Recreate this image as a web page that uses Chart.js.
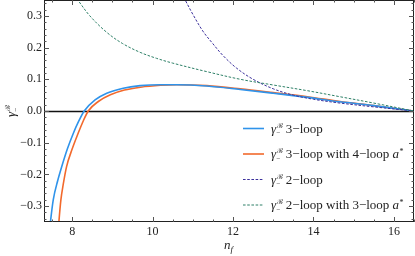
<!DOCTYPE html>
<html>
<head>
<meta charset="utf-8">
<script src="https://cdn.jsdelivr.net/npm/chart.js@4.4.1/dist/chart.umd.min.js"></script>
<style>
  html, body { margin: 0; padding: 0; background: #fff; }
  #wrap { width: 415px; height: 256px; }
</style>
</head>
<body>
<div id="wrap"><canvas id="chart" width="415" height="256"></canvas></div>
<script>
// values
const nfBlue = [7.42, 7.46, 7.53, 7.64, 7.74, 7.88, 8.03, 8.16, 8.30, 8.57, 8.86, 9.27, 9.69, 10.2, 10.6, 11.35, 12.18, 13.0, 13.85, 14.66, 15.5, 16.5];
const gammaBlue = [-0.40, -0.35, -0.28, -0.22, -0.176, -0.12, -0.07, -0.033, 0.0, 0.035, 0.056, 0.072, 0.080, 0.083, 0.083, 0.079, 0.068, 0.056, 0.043, 0.029, 0.017, 0.0];

const nfOrange = [7.63, 7.67, 7.72, 7.78, 7.86, 8.0, 8.15, 8.27, 8.40, 8.65, 8.95, 9.3, 9.7, 10.2, 10.6, 11.35, 12.18, 13.0, 13.85, 14.66, 15.5, 16.5];
const gammaOrange = [-0.42, -0.35, -0.28, -0.23, -0.176, -0.12, -0.07, -0.033, 0.0, 0.030, 0.051, 0.066, 0.075, 0.081, 0.083, 0.080, 0.070, 0.058, 0.045, 0.030, 0.017, 0.0];

const nfPurple = [10.72, 10.81, 11.0, 11.25, 11.5, 11.75, 12.09, 12.5, 13.0, 13.5, 14.0, 14.66, 15.5, 16.5];
const gammaPurple = [0.37, 0.35, 0.305, 0.252, 0.212, 0.175, 0.135, 0.100, 0.070, 0.050, 0.037, 0.025, 0.013, 0.0];

const nfGreen = [8.05, 8.14, 8.44, 8.86, 9.25, 9.69, 10.1, 10.5, 11.35, 12.18, 13.0, 13.85, 14.66, 15.5, 16.5];
const gammaGreen = [0.365, 0.35, 0.30, 0.248, 0.213, 0.185, 0.166, 0.151, 0.124, 0.100, 0.082, 0.064, 0.045, 0.025, 0.0];

const xTicks = [8, 10, 12, 14, 16];
const yTicks = [-0.3, -0.2, -0.1, 0.0, 0.1, 0.2, 0.3];

const legendLabels = ["3\u2212loop", "3\u2212loop with 4\u2212loop ", "2\u2212loop", "2\u2212loop with 3\u2212loop "];
const legendHasA = [false, true, false, true];

const colors = ["#2f93ea", "#f2692c", "#3b309c", "#2f8068"];
const serif = "'Liberation Serif', 'DejaVu Serif', serif";

function pts(xs, ys) {
    return xs.map((x, i) => ({ x: x, y: ys[i] }));
}

function lineSet(xs, ys, color, dashed) {
    const set = {
        data: pts(xs, ys),
        borderColor: color,
        borderWidth: dashed ? 1 : 1.6,
        borderDash: dashed ? [2.6, 1.6] : [],
        pointRadius: 0,
        fill: false
    };
    if (dashed) set.tension = 0.35;
    else set.cubicInterpolationMode = "monotone";
    return set;
}

// frame, inward ticks and zero line, like a Mathematica frame
const framePlugin = {
    id: "frame",
    beforeDatasetsDraw(chart) {
        const ctx = chart.ctx;
        const a = chart.chartArea;
        const ys = chart.scales.y;
        const y0 = Math.round(ys.getPixelForValue(0)) + 0.5;
        ctx.save();
        ctx.strokeStyle = "#111";
        ctx.lineWidth = 1.4;
        ctx.beginPath();
        ctx.moveTo(a.left, y0);
        ctx.lineTo(a.right, y0);
        ctx.stroke();
        ctx.restore();
    },
    afterDatasetsDraw(chart) {
        const ctx = chart.ctx;
        const a = chart.chartArea;
        const xs = chart.scales.x, ys = chart.scales.y;
        ctx.save();
        ctx.strokeStyle = "#222";
        ctx.lineWidth = 1;
        ctx.strokeRect(Math.round(a.left) + 0.5, Math.round(a.top) + 0.5,
            Math.round(a.right - a.left) - 1, Math.round(a.bottom - a.top) - 1);

        ctx.strokeStyle = "#555";
        ctx.beginPath();
        for (let v = 7.5; v <= 16.51; v += 0.5) {
            const major = Math.abs(v / 2 - Math.round(v / 2)) < 1e-6;
            const len = major ? 5 : 2.5;
            const px = Math.round(xs.getPixelForValue(v)) + 0.5;
            ctx.moveTo(px, a.bottom);
            ctx.lineTo(px, a.bottom - len);
            ctx.moveTo(px, a.top);
            ctx.lineTo(px, a.top + len);
        }
        for (let k = -17; k <= 17; k++) {
            const v = k * 0.02;
            const major = k % 5 === 0;
            const len = major ? 5 : 2.5;
            const py = Math.round(ys.getPixelForValue(v)) + 0.5;
            ctx.moveTo(a.left, py);
            ctx.lineTo(a.left + len, py);
            ctx.moveTo(a.right, py);
            ctx.lineTo(a.right - len, py);
        }
        ctx.stroke();
        ctx.restore();
    },
    afterDraw(chart) {
        const ctx = chart.ctx;
        const a = chart.chartArea;
        ctx.save();
        ctx.fillStyle = "#222";
        ctx.textBaseline = "alphabetic";

        // x title n_f
        const cx = (a.left + a.right) / 2;
        ctx.font = "italic 13px " + serif;
        ctx.fillText("n", cx - 5, 249);
        ctx.font = "italic 9px " + serif;
        ctx.fillText("f", cx + 1.5, 252);

        // y title gamma^B_-
        ctx.save();
        ctx.translate(15, (a.top + a.bottom) / 2 + 6);
        ctx.rotate(-Math.PI / 2);
        drawGamma(ctx, 0, 0);
        ctx.restore();

        // legend
        for (let i = 0; i < 4; i++) {
            const y = 128 + i * 25.5;
            ctx.save();
            ctx.strokeStyle = colors[i];
            ctx.lineWidth = i < 2 ? 1.6 : 1.2;
            ctx.setLineDash(i < 2 ? [] : [2.6, 1.6]);
            ctx.beginPath();
            ctx.moveTo(243, y + 0.5);
            ctx.lineTo(264, y + 0.5);
            ctx.stroke();
            ctx.restore();

            let x = 271;
            const by = y + 4.5;
            x = drawGamma(ctx, x, by);
            ctx.font = "13px " + serif;
            ctx.fillText(" " + legendLabels[i], x, by);
            x += ctx.measureText(" " + legendLabels[i]).width;
            if (legendHasA[i]) {
                ctx.font = "italic 13px " + serif;
                ctx.fillText("a", x, by);
                x += ctx.measureText("a").width;
                ctx.font = "8px " + serif;
                ctx.fillText("*", x + 0.5, by - 4);
            }
        }
        ctx.restore();
    }
};

function drawGamma(ctx, x, y) {
    ctx.font = "italic 13px " + serif;
    ctx.fillText("\u03b3", x, y);
    x += ctx.measureText("\u03b3").width + 0.5;
    ctx.font = "7px " + serif;
    ctx.fillText("\u212c", x, y - 5);
    const w1 = ctx.measureText("\u212c").width;
    ctx.fillText("\u2212", x, y + 2.5);
    const w2 = ctx.measureText("\u2212").width;
    return x + Math.max(w1, w2);
}

new Chart(document.getElementById("chart"), {
    type: "line",
    data: {
        datasets: [
            lineSet(nfGreen, gammaGreen, colors[3], true),
            lineSet(nfPurple, gammaPurple, colors[2], true),
            lineSet(nfBlue, gammaBlue, colors[0], false),
            lineSet(nfOrange, gammaOrange, colors[1], false)
        ]
    },
    options: {
        responsive: false,
        animation: false,
        layout: { padding: { top: 0, right: 1, left: 0, bottom: 0 } },
        plugins: { legend: { display: false }, tooltip: { enabled: false } },
        scales: {
            x: {
                type: "linear",
                min: 7.3,
                max: 16.5,
                grid: { display: false, drawTicks: false },
                border: { display: false },
                afterBuildTicks: s => { s.ticks = xTicks.map(v => ({ value: v })); },
                afterFit: s => { s.height = 34; s.paddingLeft = 0; s.paddingRight = 0; },
                ticks: {
                    padding: 3,
                    color: "#222",
                    font: { family: serif, size: 12 },
                    callback: v => String(v)
                }
            },
            y: {
                type: "linear",
                min: -0.35,
                max: 0.35,
                grid: { display: false, drawTicks: false },
                border: { display: false },
                afterBuildTicks: s => { s.ticks = yTicks.map(v => ({ value: v })); },
                afterFit: s => { s.width = 44; s.paddingTop = 0; s.paddingBottom = 0; },
                ticks: {
                    padding: 2,
                    color: "#222",
                    font: { family: serif, size: 12 },
                    callback: v => v.toFixed(1).replace("-", "\u2212")
                }
            }
        }
    },
    plugins: [framePlugin]
});
</script>
</body>
</html>
